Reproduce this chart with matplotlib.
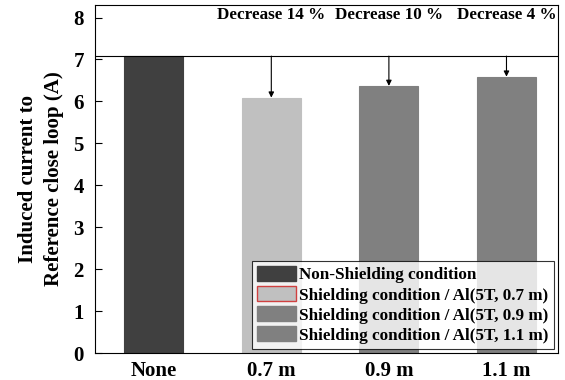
import matplotlib
matplotlib.use('Agg')
import matplotlib.pyplot as plt
import numpy as np

categories = ['None', '0.7 m', '0.9 m', '1.1 m']
currents = [7.08, 6.09, 6.37, 6.59]
decrease_labels = ['Decrease 14 %', 'Decrease 10 %', 'Decrease 4 %']
legend_labels = ['Non-Shielding condition',
                 'Shielding condition / Al(5T, 0.7 m)',
                 'Shielding condition / Al(5T, 0.9 m)',
                 'Shielding condition / Al(5T, 1.1 m)']
bar_colors = ['#404040', '#c0c0c0', '#808080', '#808080']

plt.rcParams['font.family'] = ['Liberation Serif', 'DejaVu Serif']
plt.rcParams['font.weight'] = 'bold'

fig = plt.figure(figsize=(5.65, 3.8), dpi=100)
ax = fig.add_axes([0.168, 0.071, 0.82, 0.916])

x = np.arange(len(categories))
ax.bar(x, currents, width=0.5, color=bar_colors, edgecolor=bar_colors, linewidth=0.8)

# reference line at the unshielded value
ref = currents[0]
ax.axhline(ref, color='black', linewidth=0.8)

for i, lab in enumerate(decrease_labels):
    xi = x[i + 1]
    ax.annotate('', xy=(xi, currents[i + 1]), xytext=(xi, ref),
                arrowprops=dict(arrowstyle='-|>', color='black', lw=0.8,
                                mutation_scale=8, shrinkA=0, shrinkB=0))
    ax.text(xi, 8.06, lab, ha='center', va='center', fontsize=12.3, fontweight='bold')

ax.set_xlim(-0.5, 3.44)
ax.set_ylim(0, 8.3)
ax.set_yticks(range(0, 9))
ax.set_xticks(x)
ax.set_xticklabels(categories, fontsize=15, fontweight='bold')
ax.tick_params(axis='y', direction='in', length=5, labelsize=15, pad=8, right=False)
ax.tick_params(axis='x', length=0, pad=6)
for t in ax.get_yticklabels():
    t.set_fontweight('bold')
ax.set_ylabel('Induced current to\nReference close loop (A)', fontsize=15,
              fontweight='bold', linespacing=1.4, labelpad=7)

handles = [plt.Rectangle((0, 0), 1, 1, facecolor=c, edgecolor=e)
           for c, e in zip(bar_colors, ['#404040', '#d04040', '#808080', '#808080'])]
leg = ax.legend(handles, legend_labels, loc='lower right',
                frameon=True, fancybox=False, edgecolor='black',
                handlelength=2.3, handleheight=1.0, handletextpad=0.2,
                labelspacing=0.15, borderpad=0.3, borderaxespad=0.25,
                prop={'weight': 'bold', 'size': 12.3})
leg.get_frame().set_linewidth(0.8)

fig.savefig('out.png', dpi=100)
